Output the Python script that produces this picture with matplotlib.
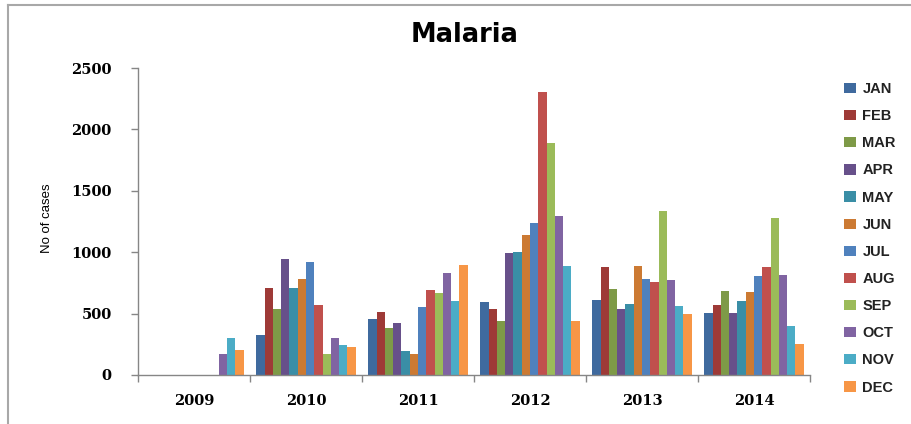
import matplotlib
matplotlib.use("Agg")
import matplotlib.pyplot as plt
import numpy as np
from matplotlib.lines import Line2D

years = ["2009", "2010", "2011", "2012", "2013", "2014"]
months = ["JAN", "FEB", "MAR", "APR", "MAY", "JUN", "JUL", "AUG", "SEP", "OCT", "NOV", "DEC"]
jan = [0, 326, 458, 592, 613, 502]
feb = [0, 708, 510, 540, 879, 567]
mar = [0, 540, 383, 437, 700, 686]
apr = [0, 944, 421, 990, 540, 507]
may = [0, 708, 198, 998, 575, 605]
jun = [0, 781, 168, 1137, 887, 673]
jul = [0, 922, 553, 1235, 781, 803]
aug = [0, 567, 695, 2303, 760, 879]
sep = [0, 168, 665, 1886, 1335, 1278]
oct_ = [168, 304, 827, 1294, 773, 812]
nov = [304, 244, 605, 887, 562, 399]
dec = [206, 231, 893, 442, 494, 252]
series = [jan, feb, mar, apr, may, jun, jul, aug, sep, oct_, nov, dec]
colors = ["#3F6A9E", "#9E3A37", "#7E9A47", "#67508A", "#3A8EA6", "#CC7A33",
          "#4F81BD", "#C0504D", "#9BBB59", "#8064A2", "#4BACC6", "#F79646"]

fig = plt.figure(figsize=(9.12, 4.24), dpi=100)
ax = fig.add_axes([138/912, 1-375/424, (810-138)/912, (375-68)/424])

n = len(months)
w = 1.0 / (n + 1.5)
x0 = np.arange(len(years)) + 0.75 * w
for i, (vals, c) in enumerate(zip(series, colors)):
    ax.bar(x0 + i * w, vals, width=w, align="edge", color=c, label=months[i], linewidth=0)

ax.set_xlim(0, len(years))
ax.set_ylim(0, 2500)
ax.set_yticks(range(0, 2501, 500))
ax.set_xticks(range(0, len(years) + 1))
ax.set_xticklabels([])
ax.set_xticks(np.arange(len(years)) + 0.5, minor=True)
ax.set_xticklabels(years, minor=True)
ax.tick_params(axis="x", which="minor", length=0, pad=14)
ax.tick_params(axis="x", which="major", length=5, color="#868686", width=1)
ax.tick_params(axis="y", length=5, color="#868686", width=1, pad=14)
for lab in ax.get_yticklabels() + ax.get_xticklabels(minor=True):
    lab.set_fontfamily("DejaVu Serif")
    lab.set_fontweight("bold")
    lab.set_fontsize(10.5)
for s in ["top", "right"]:
    ax.spines[s].set_visible(False)
for s in ["left", "bottom"]:
    ax.spines[s].set_color("#868686")
    ax.spines[s].set_linewidth(1)

fig.text(465/912, 1-35/424, "Malaria", ha="center", va="center",
         fontsize=18.5, fontweight="bold", family="DejaVu Sans")
fig.text(47/912, 1-218/424, "No of cases", ha="center", va="center",
         rotation=90, fontsize=9.5, family="Liberation Sans")

leg = fig.legend(loc="upper left", bbox_to_anchor=(831/912, 1-69/424), frameon=False,
                 handlelength=0.8, handleheight=0.7, handletextpad=0.45,
                 labelspacing=0.9, prop={"family": "Liberation Sans", "size": 10.5, "weight": "bold"})
for t in leg.get_texts():
    t.set_color("#222222")

# partial outer border (top and left)
fig.add_artist(Line2D([8.5/912, 8.5/912], [0, 1-5/424], color="#A8A8A8", lw=1.5, transform=fig.transFigure))
fig.add_artist(Line2D([8.5/912, 1], [1-5/424, 1-5/424], color="#A8A8A8", lw=1.5, transform=fig.transFigure))

fig.savefig("out.png", dpi=100)
